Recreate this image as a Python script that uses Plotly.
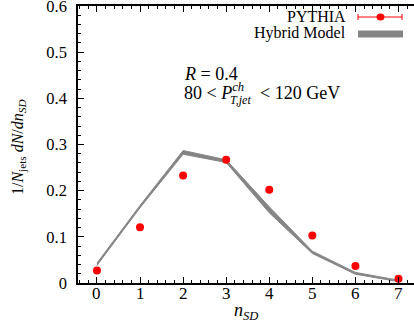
import plotly.graph_objects as go

# ---- data ----
n_sd = [0, 1, 2, 3, 4, 5, 6, 7]
pythia = [0.027, 0.121, 0.233, 0.267, 0.202, 0.103, 0.037, 0.009]
hybrid_lo = [0.038, 0.163, 0.279, 0.261, 0.152, 0.064, 0.019, 0.003]
hybrid_hi = [0.043, 0.168, 0.287, 0.267, 0.165, 0.069, 0.023, 0.006]
x_ticks = [0, 1, 2, 3, 4, 5, 6, 7]
x_ticktext = ["0", "1", "2", "3", "4", "5", "6", "7"]
y_ticks = [0, 0.1, 0.2, 0.3, 0.4, 0.5, 0.6]
y_ticktext = ["0", "0.1", "0.2", "0.3", "0.4", "0.5", "0.6"]

W, H = 414, 329
ML, MR, MT, MB = 78, 0, 6, 46
PW, PH = W - ML - MR, H - MT - MB

def px(x):
    return (x - ML) / PW

def py(y):
    return (H - MB - y) / PH

SERIF = "Liberation Serif"
GREY = "#858585"

fig = go.Figure()
fig.add_trace(go.Scatter(x=n_sd, y=hybrid_lo, mode="lines",
                         line=dict(color=GREY, width=1), showlegend=False, hoverinfo="skip"))
fig.add_trace(go.Scatter(x=n_sd, y=hybrid_hi, mode="lines", fill="tonexty",
                         fillcolor=GREY, line=dict(color=GREY, width=1),
                         showlegend=False, hoverinfo="skip"))
fig.add_trace(go.Scatter(x=n_sd, y=pythia, mode="markers",
                         marker=dict(color="#ff0000", size=8), showlegend=False))

axis_common = dict(showline=True, linecolor="black", linewidth=1.5,
                   ticks="inside", tickcolor="black", ticklen=6, tickwidth=1,
                   showgrid=False, zeroline=False,
                   tickfont=dict(family=SERIF, size=16.5, color="black"))

fig.update_xaxes(range=[-0.44, 7.36], tickvals=x_ticks, mirror="ticks", showticklabels=False,
                 minor=dict(dtick=0.2, ticks="inside", ticklen=3, tickcolor="black", tick0=0),
                 **axis_common)
fig.update_yaxes(range=[0, 0.6001], tickvals=y_ticks, ticktext=y_ticktext, mirror=False,
                 minor=dict(dtick=0.02, ticks="inside", ticklen=3, tickcolor="black", tick0=0),
                 ticklabelstandoff=6, ticklabeloverflow="allow", **axis_common)

ann = []
def text(x, y, s, size, xanchor="left", angle=0):
    ann.append(dict(x=px(x), y=py(y), xref="paper", yref="paper", text=s,
                    showarrow=False, xanchor=xanchor, yanchor="middle", textangle=angle,
                    font=dict(family=SERIF, size=size, color="black"), borderpad=0))

# x tick labels (placed close to the axis as in the reference)
for t, lab in zip(x_ticks, x_ticktext):
    ann.append(dict(x=t, y=py(293), xref="x", yref="paper", text=lab, showarrow=False,
                    xanchor="center", yanchor="middle", borderpad=0,
                    font=dict(family=SERIF, size=17, color="black")))

# axis titles
text(246, 311, "<i>n</i><sub><i>SD</i></sub>", 18, xanchor="center")
text(18, 148, "1/<i>N</i><sub>jets</sub> <i>dN</i>/<i>dn</i><sub><i>SD</i></sub>", 16,
     xanchor="center", angle=-90)

# legend
text(347, 16.5, "PYTHIA", 16, xanchor="right")
text(347, 33, "Hybrid Model", 16, xanchor="right")

# labels
text(183, 74, "<i>R</i> = 0.4", 18)
text(183, 91, "80 < <i>P</i><sup><i>ch</i></sup>", 18)
text(229, 100, "<i>T,jet</i>", 12)
text(259, 93, "< 120 GeV", 18)

shapes = []
def pshape(kind, x0, y0, x1, y1, **kw):
    shapes.append(dict(type=kind, xref="paper", yref="paper",
                       x0=px(x0), y0=py(y0), x1=px(x1), y1=py(y1), **kw))

red = "#ff0000"
pshape("line", 358, 17, 402, 17, line=dict(color=red, width=1))
pshape("line", 358, 14, 358, 20, line=dict(color=red, width=1))
pshape("line", 402, 14, 402, 20, line=dict(color=red, width=1))
pshape("circle", 376.5, 13.5, 384.5, 20.5, fillcolor=red, line=dict(color=red, width=0))
pshape("rect", 358, 30.5, 403, 37.5, fillcolor=GREY, line=dict(width=0))

fig.update_layout(width=W, height=H, margin=dict(l=ML, r=MR, t=MT, b=MB, autoexpand=False),
                  paper_bgcolor="white", plot_bgcolor="white",
                  annotations=ann, shapes=shapes, showlegend=False)

fig.write_html("out.html", config={"displayModeBar": False},
               post_script="document.body.style.margin='0';")
